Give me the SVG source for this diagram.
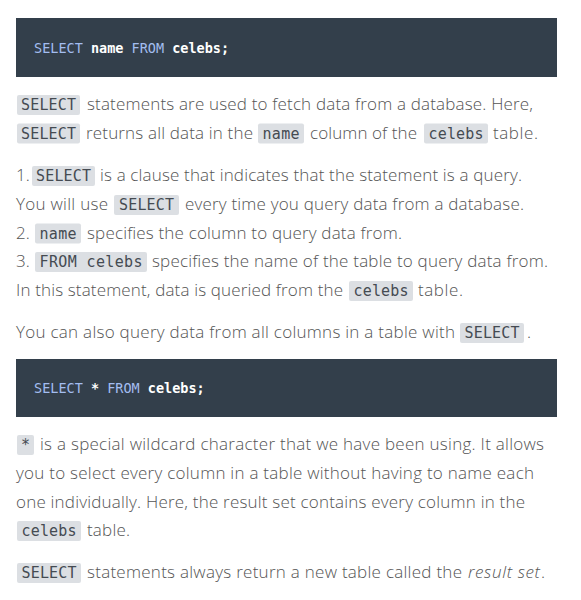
<svg xmlns="http://www.w3.org/2000/svg" width="581" height="600" viewBox="0 0 581 600">
<style>
.bg{fill:#ffffff}
.code{fill:#333f4b}
.kw{fill:#a3bdf0;font-family:"DejaVu Sans Mono","Liberation Mono",monospace;font-size:13.5px}
.id{fill:#ffffff;font-family:"DejaVu Sans Mono","Liberation Mono",monospace;font-size:13.5px;font-weight:bold}
.t{fill:#545454;font-family:"Open Sans","Noto Sans",sans-serif;font-size:17px;font-weight:300}
.it{font-style:italic}
.chip{fill:#dcdfe3}
.ct{fill:#454b52;font-family:"DejaVu Sans Mono","Liberation Mono",monospace;font-size:15px;text-anchor:middle}
</style>
<rect class="bg" x="0" y="0" width="581" height="600"/>

<g id="code1">
<rect class="code" x="16" y="18" width="541" height="59"/>
<text x="34" y="53"><tspan class="kw">SELECT</tspan><tspan class="id"> name</tspan><tspan class="kw"> FROM</tspan><tspan class="id"> celebs;</tspan></text>
</g>

<g id="para1">
<rect class="chip" x="17" y="95" width="63" height="20" rx="2"/>
<text class="ct" x="48.5" y="110" textLength="55" lengthAdjust="spacing">SELECT</text>
<text class="t" x="87" y="110" textLength="446" lengthAdjust="spacing">statements are used to fetch data from a database. Here,</text>
<rect class="chip" x="17" y="123.5" width="63" height="20" rx="2"/>
<text class="ct" x="48.5" y="138.5" textLength="55" lengthAdjust="spacing">SELECT</text>
<text class="t" x="86" y="138.5" textLength="167" lengthAdjust="spacing">returns all data in the</text>
<rect class="chip" x="258" y="123.5" width="46" height="20" rx="2"/>
<text class="ct" x="281" y="138.5" textLength="37" lengthAdjust="spacing">name</text>
<text class="t" x="310" y="138.5" textLength="107" lengthAdjust="spacing">column of the</text>
<rect class="chip" x="424" y="123.5" width="64" height="20" rx="2"/>
<text class="ct" x="456" y="138.5" textLength="55" lengthAdjust="spacing">celebs</text>
<text class="t" x="493" y="138.5" textLength="45" lengthAdjust="spacing">table.</text>
</g>

<g id="list">
<text class="t" x="16" y="181">1.</text>
<rect class="chip" x="32" y="166" width="63" height="20" rx="2"/>
<text class="ct" x="63.5" y="181" textLength="55" lengthAdjust="spacing">SELECT</text>
<text class="t" x="100" y="181" textLength="422" lengthAdjust="spacing">is a clause that indicates that the statement is a query.</text>

<text class="t" x="16" y="210" textLength="92" lengthAdjust="spacing">You will use</text>
<rect class="chip" x="114" y="195" width="65" height="20" rx="2"/>
<text class="ct" x="146.5" y="210" textLength="55" lengthAdjust="spacing">SELECT</text>
<text class="t" x="185" y="210" textLength="339" lengthAdjust="spacing">every time you query data from a database.</text>

<text class="t" x="16" y="238.5">2.</text>
<rect class="chip" x="35" y="223.5" width="46" height="20" rx="2"/>
<text class="ct" x="58" y="238.5" textLength="37" lengthAdjust="spacing">name</text>
<text class="t" x="87" y="238.5" textLength="315" lengthAdjust="spacing">specifies the column to query data from.</text>

<text class="t" x="16" y="267">3.</text>
<rect class="chip" x="35" y="252" width="112" height="20" rx="2"/>
<text class="ct" x="91" y="267" textLength="103" lengthAdjust="spacing">FROM celebs</text>
<text class="t" x="152" y="267" textLength="396" lengthAdjust="spacing">specifies the name of the table to query data from.</text>

<text class="t" x="16" y="296" textLength="327" lengthAdjust="spacing">In this statement, data is queried from the</text>
<rect class="chip" x="349" y="281" width="64" height="20" rx="2"/>
<text class="ct" x="381" y="296" textLength="55" lengthAdjust="spacing">celebs</text>
<text class="t" x="418" y="296" textLength="45" lengthAdjust="spacing">table.</text>
</g>

<g id="para2">
<text class="t" x="16" y="338" textLength="439" lengthAdjust="spacing">You can also query data from all columns in a table with</text>
<rect class="chip" x="460" y="323" width="64" height="20" rx="2"/>
<text class="ct" x="492" y="338" textLength="55" lengthAdjust="spacing">SELECT</text>
<text class="t" x="527" y="338">.</text>
</g>

<g id="code2">
<rect class="code" x="16" y="359" width="541" height="58"/>
<text x="34" y="393"><tspan class="kw">SELECT</tspan><tspan class="id"> *</tspan><tspan class="kw"> FROM</tspan><tspan class="id"> celebs;</tspan></text>
</g>

<g id="para3">
<rect class="chip" x="17" y="435" width="17" height="20" rx="2"/>
<text class="ct" x="25.5" y="450">*</text>
<text class="t" x="40" y="450" textLength="504" lengthAdjust="spacing">is a special wildcard character that we have been using. It allows</text>
<text class="t" x="16" y="479" textLength="518" lengthAdjust="spacing">you to select every column in a table without having to name each</text>
<text class="t" x="16" y="507.5" textLength="509" lengthAdjust="spacing">one individually. Here, the result set contains every column in the</text>
<rect class="chip" x="17" y="521" width="64" height="20" rx="2"/>
<text class="ct" x="49" y="536" textLength="55" lengthAdjust="spacing">celebs</text>
<text class="t" x="87" y="536" textLength="43" lengthAdjust="spacing">table.</text>
</g>

<g id="para4">
<rect class="chip" x="17" y="563" width="64" height="20" rx="2"/>
<text class="ct" x="49" y="578" textLength="55" lengthAdjust="spacing">SELECT</text>
<text class="t" x="87" y="578" textLength="375" lengthAdjust="spacing">statements always return a new table called the</text>
<text class="t it" x="468" y="578" textLength="72" lengthAdjust="spacing">result set</text>
<text class="t" x="541" y="578">.</text>
</g>
</svg>
